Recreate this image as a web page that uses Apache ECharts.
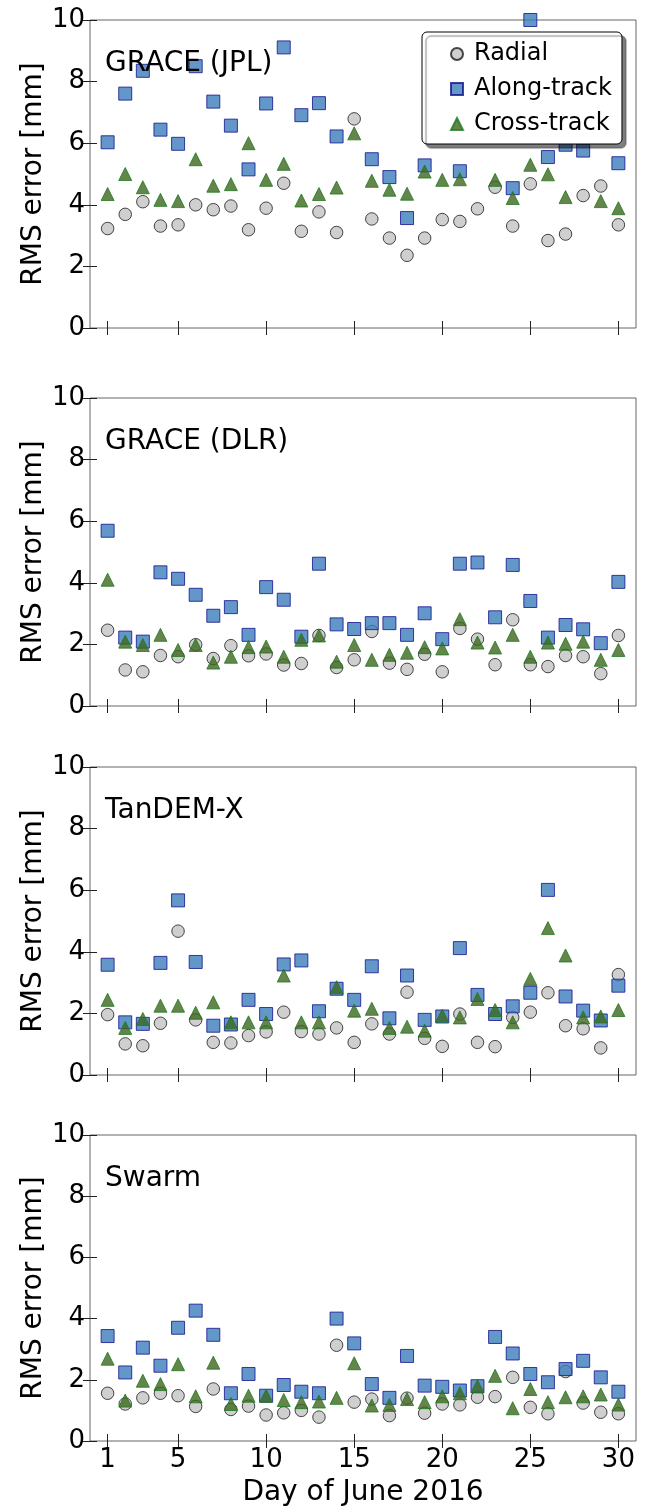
<!DOCTYPE html>
<html>
<head>
<meta charset="utf-8">
<script src="https://cdn.jsdelivr.net/npm/echarts@6.0.0/dist/echarts.min.js"></script>
<style>
  html, body { margin: 0; padding: 0; background: #fff; }
  #chart { width: 646px; height: 1508px; }
</style>
</head>
<body>
<div id="chart"></div>
<script>
const days = [1, 2, 3, 4, 5, 6, 7, 8, 9, 10, 11, 12, 13, 14, 15, 16, 17, 18, 19, 20, 21, 22, 23, 24, 25, 26, 27, 28, 29, 30];
const dayTicks = [1, 5, 10, 15, 20, 25, 30];
const panelNames = ["GRACE (JPL)", "GRACE (DLR)", "TanDEM-X", "Swarm"];

// GRACE (JPL) - some along/cross points sit behind the legend or above 10 mm
const jplRadial = [3.23, 3.69, 4.10, 3.31, 3.35, 4.00, 3.84, 3.96, 3.19, 3.89, 4.70, 3.14, 3.77, 3.10, 6.79, 3.54, 2.92, 2.36, 2.92, 3.52, 3.46, 3.87, 4.57, 3.31, 4.68, 2.84, 3.05, 4.30, 4.61, 3.35];
const jplAlong = [6.03, 7.61, 8.35, 6.44, 5.98, 8.50, 7.35, 6.57, 5.15, 7.29, 9.11, 6.91, 7.30, 6.22, 10.8, 5.48, 4.90, 3.57, 5.28, 7.4, 5.09, 7.8, 6.9, 4.54, 10.0, 5.55, 5.95, 5.76, 6.6, 5.35];
const jplCross = [4.35, 5.00, 4.57, 4.16, 4.12, 5.48, 4.62, 4.67, 6.00, 4.81, 5.33, 4.14, 4.35, 4.56, 6.32, 4.78, 4.49, 4.36, 5.08, 4.81, 4.83, 6.6, 4.81, 4.22, 5.30, 4.99, 4.25, 6.5, 4.12, 3.89];

// GRACE (DLR)
const dlrRadial = [2.46, 1.17, 1.11, 1.64, 1.60, 1.99, 1.54, 1.96, 1.63, 1.69, 1.33, 1.38, 2.29, 1.25, 1.50, 2.42, 1.39, 1.19, 1.68, 1.11, 2.52, 2.17, 1.34, 2.80, 1.34, 1.28, 1.64, 1.60, 1.05, 2.29];
const dlrAlong = [5.69, 2.22, 2.09, 4.34, 4.13, 3.61, 2.93, 3.21, 2.31, 3.86, 3.45, 2.25, 4.62, 2.65, 2.50, 2.69, 2.69, 2.31, 3.01, 2.17, 4.62, 4.66, 2.88, 4.58, 3.41, 2.22, 2.63, 2.49, 2.04, 4.03];
const dlrCross = [4.10, 2.09, 1.98, 2.31, 1.82, 1.98, 1.41, 1.60, 1.91, 1.93, 1.60, 2.15, 2.29, 1.44, 1.98, 1.50, 1.66, 1.73, 1.91, 1.87, 2.82, 2.06, 1.90, 2.31, 1.60, 2.06, 2.02, 2.09, 1.50, 1.82];

// TanDEM-X
const tdxRadial = [1.96, 1.01, 0.95, 1.68, 4.67, 1.79, 1.06, 1.04, 1.28, 1.40, 2.04, 1.41, 1.33, 1.53, 1.06, 1.66, 1.33, 2.69, 1.19, 0.93, 1.98, 1.06, 0.92, 1.87, 2.04, 2.67, 1.60, 1.50, 0.88, 3.26];
const tdxAlong = [3.58, 1.71, 1.66, 3.64, 5.67, 3.67, 1.60, 1.64, 2.44, 1.98, 3.59, 3.72, 2.07, 2.80, 2.44, 3.53, 1.84, 3.23, 1.79, 1.90, 4.12, 2.60, 1.98, 2.23, 2.67, 6.01, 2.55, 2.09, 1.77, 2.90];
const tdxCross = [2.44, 1.53, 1.82, 2.25, 2.25, 2.02, 2.36, 1.71, 1.71, 1.71, 3.23, 1.71, 1.71, 2.85, 2.09, 2.15, 1.53, 1.57, 1.44, 1.93, 1.87, 2.47, 2.11, 1.71, 3.12, 4.77, 3.88, 1.87, 1.90, 2.11];

// Swarm
const swRadial = [1.56, 1.21, 1.41, 1.56, 1.48, 1.13, 1.70, 1.03, 1.14, 0.85, 0.92, 1.00, 0.78, 3.13, 1.27, 1.37, 0.83, 1.40, 0.91, 1.21, 1.18, 1.43, 1.45, 2.08, 1.10, 0.89, 2.27, 1.24, 0.94, 0.89];
const swAlong = [3.43, 2.24, 3.05, 2.46, 3.70, 4.26, 3.47, 1.56, 2.19, 1.48, 1.83, 1.61, 1.56, 4.00, 3.19, 1.86, 1.41, 2.78, 1.81, 1.77, 1.65, 1.79, 3.40, 2.86, 2.19, 1.92, 2.35, 2.62, 2.08, 1.61];
const swCross = [2.69, 1.32, 1.97, 1.86, 2.51, 1.46, 2.56, 1.21, 1.48, 1.48, 1.34, 1.27, 1.29, 1.41, 2.54, 1.16, 1.18, 1.37, 1.27, 1.46, 1.56, 1.79, 2.13, 1.07, 1.70, 1.27, 1.43, 1.46, 1.52, 1.19];

const panelData = [
  [jplRadial, jplAlong, jplCross],
  [dlrRadial, dlrAlong, dlrCross],
  [tdxRadial, tdxAlong, tdxCross],
  [swRadial, swAlong, swCross]
];

const font = "DejaVu Sans";
const gridTops = [20, 398, 767, 1135];

const seriesStyles = [
  { name: "Radial", symbol: "circle", symbolSize: 12.5, itemStyle: { color: "#c3c3c3", borderColor: "#1a1a1a", borderWidth: 1 } },
  { name: "Along-track", symbol: "rect", symbolSize: 13, itemStyle: { color: "#3d7dbb", borderColor: "#12128c", borderWidth: 1 } },
  { name: "Cross-track", symbol: "triangle", symbolSize: [13, 13], itemStyle: { color: "#3e6620", borderColor: "#1d7a1d", borderWidth: 1 } }
];

const tickStyle = { show: true, inside: true, length: 7, lineStyle: { color: "#222", width: 1 } };

const grid = [], xAxis = [], yAxis = [], series = [], title = [];

gridTops.forEach((top, i) => {
  grid.push({
    left: 90, width: 546, top: top, height: 308,
    show: true, borderColor: "#666", borderWidth: 1, backgroundColor: "transparent"
  });

  title.push({
    text: panelNames[i], left: 105, top: top + 30, padding: 0,
    textStyle: { fontFamily: font, fontSize: 28, fontWeight: "normal", color: "#000" }
  });

  const isLast = i === gridTops.length - 1;
  xAxis.push({
    gridIndex: i, type: "value", min: 0, max: 31, position: "bottom",
    axisLine: { show: false },
    axisTick: Object.assign({ customValues: dayTicks }, tickStyle),
    axisLabel: { show: isLast, customValues: dayTicks, margin: 6, fontFamily: font, fontSize: 26, color: "#000" },
    splitLine: { show: false },
    name: isLast ? "Day of June 2016" : "", nameLocation: "middle", nameGap: 38,
    nameMoveOverlap: false,
    nameTextStyle: { fontFamily: font, fontSize: 28, color: "#000" }
  });
  xAxis.push({
    gridIndex: i, type: "value", min: 0, max: 31, position: "top",
    axisLine: { show: false },
    axisTick: Object.assign({ customValues: dayTicks }, tickStyle),
    axisLabel: { show: false }, splitLine: { show: false }
  });
  yAxis.push({
    gridIndex: i, type: "value", min: 0, max: 10, interval: 2, position: "left",
    axisLine: { show: false }, axisTick: tickStyle,
    axisLabel: { margin: 5, fontFamily: font, fontSize: 26, color: "#000" },
    splitLine: { show: false },
    name: "RMS error [mm]", nameLocation: "middle", nameGap: 42,
    nameMoveOverlap: false,
    nameTextStyle: { fontFamily: font, fontSize: 28, color: "#000" }
  });
  yAxis.push({
    gridIndex: i, type: "value", min: 0, max: 10, interval: 2, position: "right",
    axisLine: { show: false }, axisTick: tickStyle,
    axisLabel: { show: false }, splitLine: { show: false }
  });

  panelData[i].forEach((values, k) => {
    const st = seriesStyles[k];
    series.push({
      type: "scatter", name: st.name, symbol: st.symbol, symbolSize: st.symbolSize,
      xAxisIndex: i * 2, yAxisIndex: i * 2, clip: true,
      itemStyle: st.itemStyle,
      emphasis: { disabled: true },
      data: days.map((d, j) => [d, values[j]])
    });
  });
});

const chart = echarts.init(document.getElementById("chart"), null, { renderer: "canvas" });
chart.setOption({
  animation: false,
  backgroundColor: "#fff",
  title: title,
  grid: grid,
  xAxis: xAxis,
  yAxis: yAxis,
  legend: {
    data: [
      { name: "Radial", icon: "circle" },
      { name: "Along-track", icon: "rect" },
      { name: "Cross-track", icon: "triangle" }
    ],
    orient: "vertical", left: 422, top: 32,
    itemWidth: 12, itemHeight: 12, itemGap: 11,
    padding: [10, 10, 8, 28],
    backgroundColor: "#fff", borderColor: "#000", borderWidth: 1, borderRadius: 5,
    shadowColor: "rgba(0,0,0,0.5)", shadowOffsetX: 4, shadowOffsetY: 4, shadowBlur: 1,
    selectedMode: false,
    textStyle: { fontFamily: font, fontSize: 24, color: "#000", padding: [0, 0, 0, 6] }
  },
  series: series
});
</script>
</body>
</html>
